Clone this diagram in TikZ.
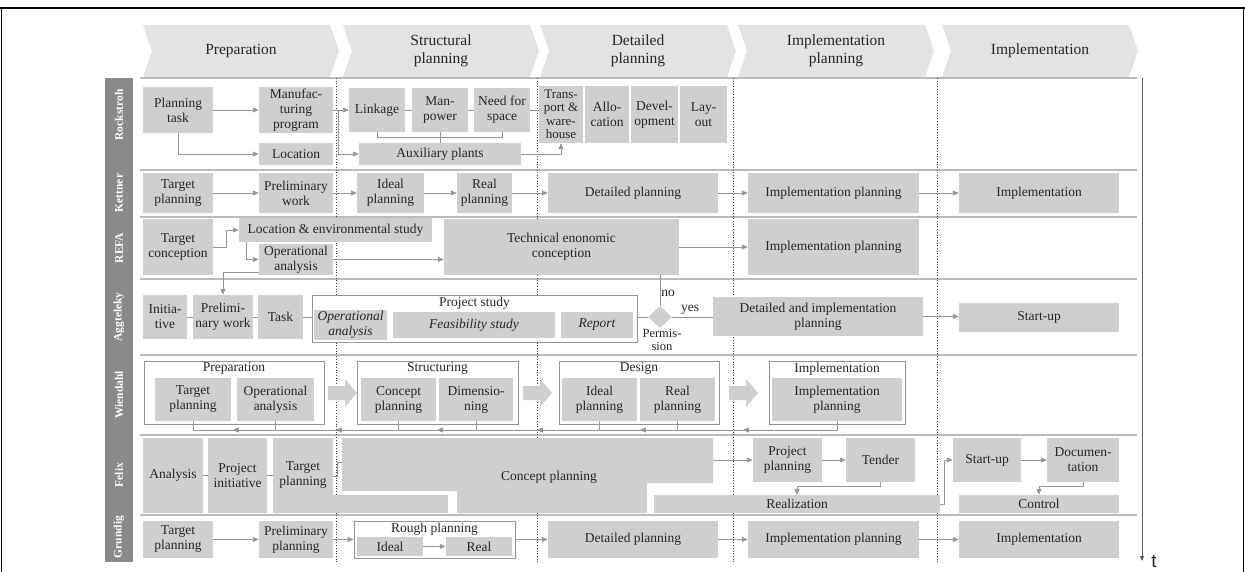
\documentclass[tikz,border=0pt]{standalone}
\usepackage{fontspec}
\setmainfont{Liberation Serif}
\newfontfamily\axisfont{Liberation Sans}
\usetikzlibrary{arrows.meta,calc,decorations.markings,shapes.geometric}

\definecolor{boxgray}{HTML}{CFCFCF}
\definecolor{headgray}{HTML}{E3E3E3}
\definecolor{linegray}{HTML}{959595}
\definecolor{sidegray}{HTML}{8A8A8A}
\definecolor{sepgray}{HTML}{BBBBBB}
\definecolor{txt}{HTML}{262626}

\tikzset{
  boxfont/.style={font=\fontsize{13.5}{15}\selectfont},
  box/.style={fill=boxgray, draw=none, inner sep=1pt, align=center, text=txt, boxfont},
  frame/.style={fill=white, draw=linegray, line width=0.9pt, inner sep=0pt},
  ttl/.style={text=txt, boxfont, inner sep=2pt},
  lbl/.style={text=txt, boxfont, inner sep=1pt, align=center},
  headtxt/.style={text=txt, font=\fontsize{15.5}{18}\selectfont, align=center},
  side/.style={text=white, font=\bfseries\fontsize{11.5}{12}\selectfont, rotate=90},
  ln/.style={draw=linegray, line width=0.9pt},
  tip/.style={-{Triangle[width=5pt,length=6pt]}},
  arr/.style={ln, tip},
  sep/.style={draw=sepgray, line width=1.6pt},
  phase/.style={draw=black!75, dotted, line width=0.7pt},
}

% box with corners (x1,y1) (x2,y2)
\newcommand\bx[7][]{\node[box,#1,minimum width={(#5-#3)*1pt},minimum height={(#6-#4)*1pt}] (#2) at ({(#3+#5)/2},{(#4+#6)/2}) {#7};}
% white frame with a title at its top
\newcommand\fr[6]{\node[frame,minimum width={(#5-#3)*1pt},minimum height={(#6-#4)*1pt}] (#1) at ({(#3+#5)/2},{(#4+#6)/2}) {};
  \node[ttl, below] (#1t) at (#1.north) {#2};}
% header chevron
\newcommand\chev[3]{\fill[headgray] (#1,25) -- ++(187,0) -- ++(9,26) -- ++(-9,26) -- ++(-187,0) -- ++(9,-26) -- cycle;
  \node[headtxt] (#2) at (#1+98,51) {#3};}

\begin{document}
\begin{tikzpicture}[x=1pt,y=-1pt]
\useasboundingbox (0,0) rectangle (1245,572);

% page frame
\draw[line width=2.5pt] (0,8) -- (1245,8);
\draw[line width=1.2pt] (1.5,8) -- (1.5,572);
\draw[line width=1.2pt] (1243.5,8) -- (1243.5,572);

% phase headers
\chev{143}{h1}{Preparation}
\chev{343}{h2}{Structural\\planning}
\chev{540}{h3}{Detailed\\planning}
\chev{738}{h4}{Implementation\\planning}
\chev{942}{h5}{Implementation}

% side bar with the method names
\fill[sidegray] (105,78) rectangle (133,562);
\node[side] (n1) at (119,115) {Rockstroh};
\node[side] (n2) at (119,193) {Kettner};
\node[side] (n3) at (119,248) {REFA};
\node[side] (n4) at (119,317) {Aggteleky};
\node[side] (n5) at (119,395) {Wiendahl};
\node[side] (n6) at (119,475) {Felix};
\node[side] (n7) at (119,537) {Grundig};

% row separators
\foreach \y in {78,170,217,279,355,435,515} \draw[sep] (140,\y) -- (1137,\y);

% phase borders
\foreach \x in {336,537,733,937} \draw[phase] (\x,78) -- (\x,563);

% time axis
\coordinate (ax0) at (1142,78);
\coordinate (ax1) at (1142,561);
\draw[draw=black!65, line width=1pt, -{Triangle[width=4pt,length=5pt]}] (ax0) -- (ax1);
\node[inner sep=0pt, text=txt] (tl) at (1154,561) {\axisfont\fontsize{19}{20}\selectfont t};

% ---------------- Rockstroh
\bx{r1}{143}{87}{213}{133}{Planning\\task}
\bx{r2}{259}{87}{333}{133}{Manufac-\\turing\\program}
\bx{r3}{259}{143}{333}{165}{Location}
\bx{r4}{349}{88}{405}{132}{Linkage}
\bx{r5}{412}{88}{468}{132}{Man-\\power}
\bx{r6}{474}{88}{530}{132}{Need for\\space}
\bx{r7}{359}{143}{521}{165}{Auxiliary plants}
\bx[font=\fontsize{13}{13.5}\selectfont]{r8}{539}{86}{583}{143}{Trans-\\port \&\\ware-\\house}
\bx{r9}{585}{86}{629}{143}{Allo-\\cation}
\bx{r10}{631}{86}{678}{143}{Devel-\\opment}
\bx{r11}{680}{86}{727}{143}{Lay-\\out}
\coordinate (rj) at (338,110);
\draw[arr] (r1.east) -- (r2.west);
\draw[arr] (r1.south) |- (r3.west);
\draw[arr] (r2.east) -- (r4.west);
\draw[arr] (rj) |- (r7.west);
\draw[ln] (r4) -- (r5);
\draw[ln] (r5) -- (r6);
\draw[ln] (r6.east) -- (r6.east -| r8.west);
\draw[ln] (r4.south) -- ++(0,5) -| (r6.south);
\draw[ln] (r5.south) -- (r5.south |- r7.north);
\draw[arr] (r7.east) -| (r8.south);

% ---------------- Kettner
\bx{k1}{143}{173}{213}{213}{Target\\planning}
\bx{k2}{259}{173}{333}{213}{Preliminary\\work}
\bx{k3}{357}{173}{424}{213}{Ideal\\planning}
\bx{k4}{457}{173}{512}{213}{Real\\planning}
\bx{k5}{548}{173}{718}{213}{Detailed planning}
\bx{k6}{748}{173}{919}{213}{Implementation planning}
\bx{k7}{959}{173}{1119}{213}{Implementation}
\foreach \a/\b in {k1/k2,k2/k3,k3/k4,k4/k5,k5/k6,k6/k7} \draw[arr] (\a.east) -- (\b.west);

% ---------------- REFA
\bx{f1}{143}{219}{213}{275}{Target\\conception}
\bx{f2}{239}{218}{432}{242}{Location \& environmental study}
\bx{f3}{259}{244}{333}{275}{Operational\\analysis}
\bx{f4}{444}{219}{679}{275}{Technical enonomic\\conception}
\bx{f5}{748}{219}{919}{275}{Implementation planning}
\draw[arr] (f1.east) -- ++(13,0) |- (f2.west);
\draw[arr] ([xshift=8pt]f2.south west) |- (f3.west);
\draw[arr] (f3.east) -- (f3.east -| f4.west);
\draw[ln] ($(f3.east)+(0,11)$) -- ($(f3.east)+(0,11)$ -| f4.west);
\draw[arr] (f4.east) -- (f5.west);

% ---------------- Aggteleky
\bx{a1}{143}{295}{187}{339}{Initia-\\tive}
\bx{a2}{193}{295}{253}{339}{Prelimi-\\nary work}
\bx{a3}{258}{295}{303}{339}{Task}
\fr{ps}{Project study}{312}{295}{637}{342}
\bx[font=\itshape\fontsize{13.5}{15}\selectfont]{a4}{314}{312}{387}{338}{Operational\\analysis}
\bx[font=\itshape\fontsize{13.5}{15}\selectfont]{a5}{393}{312}{555}{338}{Feasibility study}
\bx[font=\itshape\fontsize{13.5}{15}\selectfont]{a6}{561}{312}{633}{338}{Report}
\node[diamond, aspect=1, fill=boxgray, minimum width=24pt, minimum height=22pt, inner sep=0pt] (dm) at (660,317) {};
\bx{a7}{713}{297}{923}{336}{Detailed and implementation\\planning}
\bx{a8}{959}{303}{1119}{332}{Start-up}
\node[lbl] (no) at (668,293) {no};
\node[lbl] (yes) at (690,310) {yes};
\node[lbl, font=\fontsize{12.5}{13.5}\selectfont] (perm) at (662,340) {Permis-\\sion};
\draw[arr] ($(f3.south west)+(0,-3)$) -| (a2.north);
\draw[ln] (dm.north |- f4.south) -- (dm.north);
\draw[ln] (a1) -- (a2);
\draw[ln] (a2) -- (a3);
\draw[ln] (a3.east) -- (a3.east -| ps.west);
\draw[ln] (dm.west) -- (dm.west -| ps.east);
\draw[ln] (dm.east) -- (dm.east -| a7.west);
\draw[arr] (a7.east) -- (a7.east -| a8.west);

% ---------------- Wiendahl
\fr{wp}{Preparation}{144}{361}{324}{424}
\fr{ws}{Structuring}{357}{361}{518}{424}
\fr{wd}{Design}{559}{361}{719}{424}
\fr{wi}{Implementation}{769}{361}{905}{424}
\bx{w1}{155}{378}{231}{421}{Target\\planning}
\bx{w2}{237}{378}{314}{421}{Operational\\analysis}
\bx{w3}{361}{378}{436}{421}{Concept\\planning}
\bx{w4}{439}{378}{513}{421}{Dimensio-\\ning}
\bx{w5}{562}{378}{637}{421}{Ideal\\planning}
\bx{w6}{640}{378}{715}{421}{Real\\planning}
\bx{w7}{772}{378}{902}{421}{Implementation\\planning}
\foreach \s in {328,523,729}
  \fill[boxgray] (\s,386) -- ++(17,0) -- ++(0,-7) -- ++(12,14) -- ++(-12,14) -- ++(0,-7) -- ++(-17,0) -- cycle;
\coordinate (fb) at (0,430);
\foreach \b in {w2,w3,w4,w5,w6} \draw[ln] (\b.south) -- (\b.south |- fb);
\draw[ln, postaction={decorate}, decoration={markings,
    mark=at position 103pt with {\arrow{Triangle[width=5pt,length=6pt]}},
    mark=at position 206pt with {\arrow{Triangle[width=5pt,length=6pt]}},
    mark=at position 309pt with {\arrow{Triangle[width=5pt,length=6pt]}},
    mark=at position 409pt with {\arrow{Triangle[width=5pt,length=6pt]}},
    mark=at position 510pt with {\arrow{Triangle[width=5pt,length=6pt]}},
    mark=at position 613pt with {\arrow{Triangle[width=5pt,length=6pt]}}}]
  (w7.south) -- (w7.south |- fb) -- (w1.south |- fb) -- (w1.south);

% ---------------- Felix
\bx{x1}{143}{438}{203}{513}{Analysis}
\bx{x2}{208}{438}{267}{513}{Project\\initiative}
\fill[boxgray] (273,495) rectangle (448,513);
\bx{x3}{273}{438}{333}{513}{Target\\planning}
\fill[boxgray] (342,438) -- (713,438) -- (713,483) -- (647,483) -- (647,513) -- (457,513) -- (457,491) -- (342,491) -- cycle;
\node[lbl] (cp) at (549,477) {Concept planning};
\coordinate (cpw) at (342,462);
\coordinate (cpe) at (713,460);
\bx{x4}{753}{438}{822}{482}{Project\\planning}
\bx{x5}{846}{438}{915}{482}{Tender}
\bx{x6}{654}{495}{940}{513}{Realization}
\bx{x7}{953}{438}{1021}{482}{Start-up}
\bx{x8}{1047}{438}{1119}{482}{Documen-\\tation}
\bx{x9}{959}{495}{1119}{513}{Control}
\draw[ln] (x1) -- (x2);
\draw[ln] (x2) -- (x3);
\draw[ln] ($(x3.east)+(0,1)$) -- ++(4,0) |- (cpw);
\draw[arr] (cpe) -- (x4.west);
\draw[arr] (x4) -- (x5);
\draw[arr] (x5.south) -- ++(0,4) -| (x6.north);
\draw[arr] (x6.east) -- ++(4,0) |- (x7.west);
\draw[arr] (x7) -- (x8);
\draw[arr] (x8.south) -- ++(0,4) -| (x9.north);

% ---------------- Grundig
\bx{g1}{143}{521}{213}{558}{Target\\planning}
\bx{g2}{259}{521}{333}{558}{Preliminary\\planning}
\fr{rg}{Rough planning}{354}{521}{515}{558}
\bx{g3}{357}{537}{423}{556}{Ideal}
\bx{g4}{446}{537}{512}{556}{Real}
\bx{g5}{548}{521}{718}{558}{Detailed planning}
\bx{g6}{748}{521}{919}{558}{Implementation planning}
\bx{g7}{959}{521}{1119}{558}{Implementation}
\draw[arr] (g1) -- (g2);
\draw[arr] (g2) -- (rg);
\draw[arr] (g3) -- (g4);
\draw[arr] (rg) -- (g5);
\draw[arr] (g5) -- (g6);
\draw[arr] (g6) -- (g7);
\end{tikzpicture}
\end{document}
